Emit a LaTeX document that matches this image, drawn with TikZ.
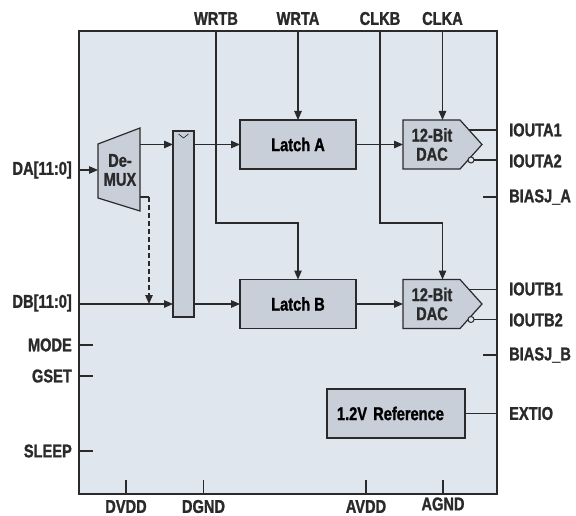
\documentclass[tikz,border=0pt]{standalone}
\usepackage{fontspec}
\setmainfont{Liberation Sans}[FakeStretch=0.79,BoldFeatures={FakeBold=1.3}]
\usepackage{tikz}
\usetikzlibrary{arrows.meta,positioning,calc}
\definecolor{chipbg}{HTML}{DFE6ED}
\definecolor{blockbg}{HTML}{C8CFD9}
\definecolor{ink}{HTML}{2A2A2A}

\begin{document}
\begin{tikzpicture}[
  x=1pt,y=-1pt,
  font=\fontsize{18.5}{19}\selectfont\bfseries,
  chip/.style={draw=ink,fill=chipbg,line width=1.4pt,inner sep=0pt,outer sep=0pt},
  blk/.style={draw=ink,fill=blockbg,line width=1.2pt,align=center,inner sep=0pt,outer sep=0pt},
  latch/.style={blk,minimum width=116pt,minimum height=49pt},
  dacbody/.style={txt,minimum width=57pt,minimum height=49pt,outer sep=0pt},
  wire/.style={ink,line width=1.1pt},
  arr/.style={wire,-{Triangle[length=9pt,width=7.5pt]}},
  bubble/.style={circle,draw=ink,fill=chipbg,line width=1pt,minimum size=6pt,inner sep=0pt,outer sep=0pt},
  txt/.style={text=ink,align=center,inner sep=0pt},
  pinlab/.style={text=ink,inner sep=0pt}
]
\useasboundingbox (0,0) rectangle (576,516);

% package outline
\node[chip,minimum width=418pt,minimum height=463pt] (chip) at (288,262.5) {};

% data path
\draw[blk] (98,144) -- (140,128) -- (140,211) -- (98,198) -- cycle;
\node[txt] (demux) at (120,170) {De-\\MUX};
\coordinate (dmin) at (98,170);
\coordinate (dmouta) at (140,144.5);
\coordinate (dmoutb) at (140,197);

\node[blk,minimum width=21pt,minimum height=186pt] (reg) at (183.5,224) {};
\draw[wire,line width=0.7pt] ($(reg.north)+(-5,3)$) -- ($(reg.north)+(0,7)$) -- ($(reg.north)+(5,3)$);

\node[latch] (latcha) at (298,144.5) {Latch A};
\node[latch,below=110.5pt of latcha] (latchb) {Latch B};

% DACs: body node plus pointed outline
\draw[blk] (403,120) -- ++(57,0) -- ++(22,24.5) -- ++(-22,24.5) -- ++(-57,0) -- cycle;
\node[dacbody] (daca) at (432,144.5) {12-Bit\\DAC};
\coordinate (dacain) at (403,144.5);
\draw[blk] (403,279.5) -- ++(57,0) -- ++(22,24.5) -- ++(-22,24.5) -- ++(-57,0) -- cycle;
\node[dacbody] (dacb) at (432,304) {12-Bit\\DAC};
\coordinate (dacbin) at (403,304);

\node[blk,text width=118pt,align=left,inner xsep=10pt,minimum height=49pt] (ref) at (396,413.5) {1.2V Reference};

% left pins
\node[pinlab,anchor=east] (lda) at (72,170) {DA[11:0]};
\node[pinlab,anchor=east] (ldb) at (72,303) {DB[11:0]};
\node[pinlab,anchor=east] (lmode) at (72,345) {MODE};
\node[pinlab,anchor=east] (lgset) at (72,376) {GSET};
\node[pinlab,anchor=east] (lsleep) at (72,451) {SLEEP};

% top pins
\node[txt] (wrtb) at (216,18.5) {WRTB};
\node[txt] (wrta) at (298,18.5) {WRTA};
\node[txt] (clkb) at (380,18.5) {CLKB};
\node[txt] (clka) at (442.5,18.5) {CLKA};

% right pins
\node[pinlab,anchor=west] (ia1) at (509,130) {IOUTA1};
\node[pinlab,anchor=west] (ia2) at (509,161) {IOUTA2};
\node[pinlab,anchor=west] (biasa) at (509,197) {BIASJ\_A};
\node[pinlab,anchor=west] (ib1) at (509,289) {IOUTB1};
\node[pinlab,anchor=west] (ib2) at (509,320) {IOUTB2};
\node[pinlab,anchor=west] (biasb) at (509,355) {BIASJ\_B};
\node[pinlab,anchor=west] (extio) at (509,413.5) {EXTIO};

% bottom pins
\node[txt] (dvdd) at (126,506.5) {DVDD};
\node[txt] (dgnd) at (203.5,506.5) {DGND};
\node[txt] (avdd) at (366,506.5) {AVDD};
\node[txt] (agnd) at (443,504) {AGND};

% data connections
\draw[arr] (chip.west|-dmin) -- (dmin);
\draw[arr] (dmouta) -- (reg.west|-dmouta);
\draw[wire] (dmoutb) -- ++(9,0) coordinate (dsh);
\draw[arr,dash pattern=on 5pt off 3pt] (dsh) -- (dsh|-latchb);
\draw[arr] (chip.west|-latchb) -- (reg.west|-latchb);
\draw[arr] (reg.east|-latcha) -- (latcha.west);
\draw[arr] (reg.east|-latchb) -- (latchb.west);
\draw[arr] (latcha.east) -- (dacain);
\draw[arr] (latchb.east) -- (dacbin);

% write and clock lines
\draw[arr] (wrta|-chip.north) -- (latcha.north);
\draw[arr] (wrtb|-chip.north) |- (latchb.north|-0,223) -- (latchb.north);
\draw[arr] (clka|-chip.north) -- (clka|-daca.north);
\draw[arr] (clkb|-chip.north) |- (clka|-0,223) -- (clka|-dacb.north);

% DAC outputs
\coordinate (oa1) at (469,130);
\coordinate (ob1) at (469,289.5);
\node[bubble] (bua) at (471,160) {};
\node[bubble] (bub) at (471,319.5) {};
\draw[wire] (oa1) -- (oa1-|chip.east);
\draw[wire] (bua.east) -- (bua-|chip.east);
\draw[wire] (ob1) -- (ob1-|chip.east);
\draw[wire] (bub.east) -- (bub-|chip.east);
\draw[wire] (ref.east) -- (chip.east|-ref);

% pin stubs
\foreach \p in {lmode,lgset,lsleep}
  \draw[wire] (chip.west|-\p) -- ++(14,0);
\foreach \p in {biasa,biasb}
  \draw[wire] (chip.east|-\p) -- ++(-14,0);
\foreach \p in {dvdd,dgnd,avdd,agnd}
  \draw[wire] (\p|-chip.south) -- ++(0,-14);
\end{tikzpicture}
\end{document}
